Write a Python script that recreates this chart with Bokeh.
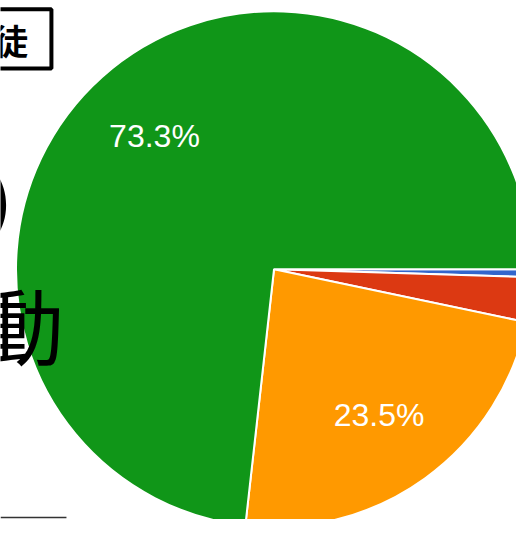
import numpy as np
from bokeh.plotting import figure
from bokeh.models import ColumnDataSource, Range1d
from bokeh.core.properties import value
from bokeh.embed import file_html
from bokeh.resources import INLINE

# ---- data ----
categories = ["項目1", "項目2", "項目3", "項目4"]
percent = [0.5, 2.8, 23.5, 73.3]
colors = ["#3366cc", "#dc3912", "#ff9900", "#109618"]

# ---- layout (reference pixel coordinates, y measured from top) ----
W, H = 532, 535
CX, CY_TOP, R = 282, 277, 266
CY = H - CY_TOP
LABEL_R = 0.695 * R
S = 516 / 532  # pixel scale of the figure relative to the reference

vals = np.array(percent, dtype=float)
frac = vals / vals.sum()
cum = np.cumsum(frac)
prev = cum - frac
# clockwise from 3 o'clock
start = -cum * 2 * np.pi
end = -prev * 2 * np.pi
mid = (start + end) / 2

src = ColumnDataSource(dict(cat=categories, start=start, end=end, color=colors))

p = figure(width=516, height=519, output_backend="svg", toolbar_location=None,
           x_range=Range1d(0, W), y_range=Range1d(0, H), min_border=0)
p.axis.visible = False
p.grid.visible = False
p.outline_line_color = None
p.background_fill_color = "white"
p.border_fill_color = "white"

p.wedge(x=CX, y=CY, radius=R, start_angle="start", end_angle="end",
        fill_color="color", line_color="white", line_width=2, source=src)

show = frac >= 0.05
lab = ColumnDataSource(dict(
    x=CX + LABEL_R * np.cos(mid[show]),
    y=CY + LABEL_R * np.sin(mid[show]),
    t=[f"{v:.1f}%" for v in vals[show]],
))
p.text(x="x", y="y", text="t", source=lab, text_color="white",
       text_font=value("Liberation Sans"), text_font_size=f"{33*S:.1f}px",
       text_align="center", text_baseline="middle")

# background page fragments visible at the left edge
p.quad(left=-20, right=52.5, top=H - 9, bottom=H - 70, fill_alpha=0,
       line_color="black", line_width=4)
p.text(x=[28.5], y=[H - 41], text=["徒"], text_color="black",
       text_font=value("Noto Sans CJK JP"), text_font_size=f"{36*S:.1f}px",
       text_font_style="bold", text_align="right", text_baseline="middle")
p.text(x=[11], y=[H - 203], text=[")"], text_color="black",
       text_font=value("Noto Sans CJK JP"), text_font_size=f"{62*S:.1f}px",
       text_font_style="bold", text_align="right", text_baseline="middle")
p.text(x=[65.5], y=[H - 332], text=["動"], text_color="black",
       text_font=value("Noto Sans CJK JP"), text_font_size=f"{86*S:.1f}px",
       text_align="right", text_baseline="middle")
p.segment(x0=[0], y0=[H - 533], x1=[68], y1=[H - 533], line_color="#333333",
          line_width=1.5)

open("out.html", "w").write(file_html(p, INLINE))
